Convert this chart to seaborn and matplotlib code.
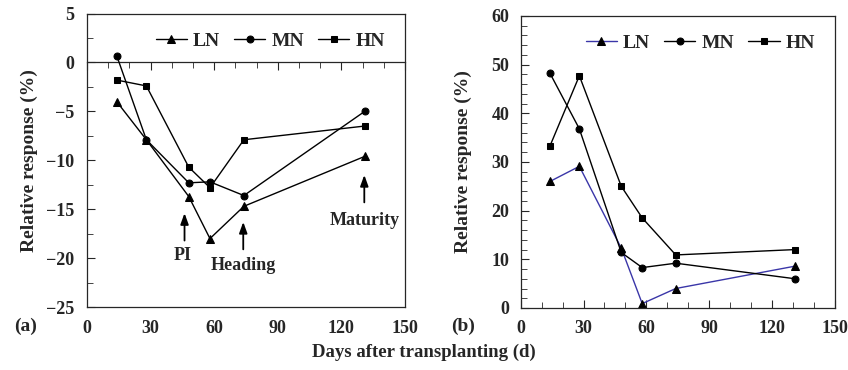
import numpy as np
import pandas as pd
import matplotlib
matplotlib.use("Agg")
import matplotlib.pyplot as plt
import seaborn as sns
from matplotlib.ticker import MultipleLocator

days = [14, 28, 48, 58, 74, 131]

# panel (a)
a_ln = [-4.0, -7.9, -13.7, -18.0, -14.7, -9.6]
a_mn = [0.7, -7.9, -12.3, -12.2, -13.6, -5.0]
a_hn = [-1.8, -2.4, -10.7, -12.8, -7.9, -6.5]

# panel (b)
b_ln = [26.0, 29.1, 12.3, 0.9, 4.0, 8.6]
b_mn = [48.2, 36.8, 11.4, 8.3, 9.2, 6.0]
b_hn = [33.3, 47.7, 25.0, 18.5, 10.9, 12.0]

series = ['LN', 'MN', 'HN']
markers = {'LN': '^', 'MN': 'o', 'HN': 's'}
msizes = {'LN': 5.5, 'MN': 5, 'HN': 4.5}

stages = ['PI', 'Heading', 'Maturity']
stage_day = [46, 73.7, 130.8]
stage_tip = [-15.4, -16.3, -11.5]

sns.set_style("ticks")
plt.rcParams['font.family'] = ['Liberation Serif', 'DejaVu Serif']
plt.rcParams['font.weight'] = 'bold'
plt.rcParams['axes.labelweight'] = 'bold'

fig = plt.figure(figsize=(8.48, 3.7), dpi=100)
ax1 = fig.add_axes([0.1026, 0.170, 0.375, 0.7935])
ax2 = fig.add_axes([0.614, 0.1676, 0.3707, 0.7894])


def draw(ax, vals, colors):
    for name, v in zip(series, vals):
        df = pd.DataFrame({'day': days, 'resp': v})
        sns.lineplot(data=df, x='day', y='resp', ax=ax, color=colors[name],
                     marker=markers[name], markersize=msizes[name],
                     markerfacecolor='black', markeredgecolor='black',
                     linewidth=1.0, label=name)
    ax.legend(loc='upper right', ncol=3, frameon=False, fontsize=14,
              handlelength=1.6, handletextpad=0.3, columnspacing=0.75,
              borderaxespad=0.4, bbox_to_anchor=(0.985, 0.99))
    ax.set_xlabel('')
    ax.set_ylabel('Relative response (%)', fontsize=14)
    for s in ax.spines.values():
        s.set_visible(True)
        s.set_linewidth(0.9)
    ax.set_xlim(0, 150)
    ax.xaxis.set_major_locator(MultipleLocator(30))
    ax.xaxis.set_minor_locator(MultipleLocator(10))
    ax.tick_params(labelsize=13)


draw(ax1, [a_ln, a_mn, a_hn], {'LN': 'black', 'MN': 'black', 'HN': 'black'})
ax1.set_ylim(-25, 5)
ax1.yaxis.set_major_locator(MultipleLocator(5))
ax1.yaxis.set_minor_locator(MultipleLocator(2.5))
ax1.tick_params(axis='y', which='major', direction='in', length=6, pad=9)
ax1.tick_params(axis='y', which='minor', direction='in', length=4)
ax1.tick_params(axis='x', which='both', length=0, pad=9)
ax1.yaxis.set_label_coords(-0.155, 0.5)

# x axis line at y = 0 carrying the day ticks
sec = ax1.secondary_xaxis(25 / 30)
sec.xaxis.set_major_locator(MultipleLocator(30))
sec.xaxis.set_minor_locator(MultipleLocator(10))
sec.tick_params(which='major', direction='in', length=6, labeltop=False, labelbottom=False)
sec.tick_params(which='minor', direction='in', length=4)
sec.spines['top'].set_linewidth(0.9)

for d, tip in zip(stage_day, stage_tip):
    ax1.annotate('', xy=(d, tip), xytext=(d, tip - 2.8),
                 arrowprops=dict(arrowstyle='-|>,head_length=0.55,head_width=0.2',
                                 color='black', lw=1.3, shrinkA=0, shrinkB=0,
                                 mutation_scale=12))
ax1.text(stage_day[0] - 1, -19.7, stages[0], ha='center', va='center', fontsize=13)
ax1.text(stage_day[1], -20.8, stages[1], ha='center', va='center', fontsize=13)
ax1.text(stage_day[2], -16.1, stages[2], ha='center', va='center', fontsize=13)

draw(ax2, [b_ln, b_mn, b_hn], {'LN': '#3a36a8', 'MN': 'black', 'HN': 'black'})
ax2.set_ylim(0, 60)
ax2.yaxis.set_major_locator(MultipleLocator(10))
ax2.yaxis.set_minor_locator(MultipleLocator(2))
ax2.tick_params(axis='y', which='major', direction='in', length=6, pad=8)
ax2.tick_params(axis='y', which='minor', direction='in', length=4)
ax2.tick_params(axis='x', which='major', direction='in', length=6, pad=9)
ax2.tick_params(axis='x', which='minor', direction='in', length=4)
ax2.yaxis.set_label_coords(-0.156, 0.5)

fig.text(0.03, 0.117, '(a)', fontsize=14, ha='center', va='center')
fig.text(0.546, 0.117, '(b)', fontsize=14, ha='center', va='center')
fig.text(0.5, 0.048, 'Days after transplanting (d)', fontsize=13.5,
         ha='center', va='center')

fig.savefig('out.png', dpi=100)
